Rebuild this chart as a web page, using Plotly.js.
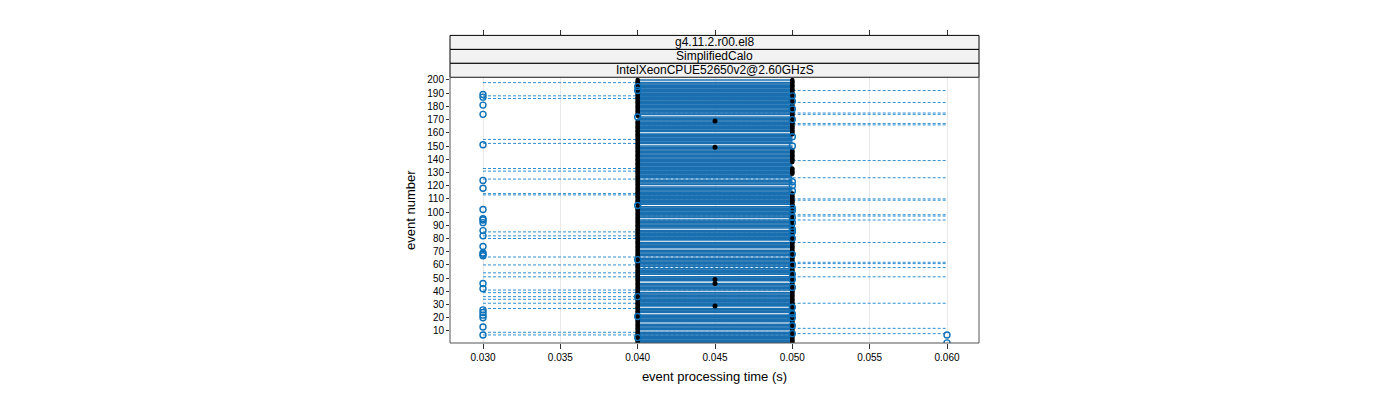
<!DOCTYPE html>
<html>
<head>
<meta charset="utf-8">
<script src="https://cdn.plot.ly/plotly-3.0.1.min.js"></script>
<style>html,body{margin:0;padding:0;background:#fff;}#chart{width:1400px;height:400px;}</style>
</head>
<body>
<div id="chart"></div>
<script>
// ---- data ----
const stripLabels = ["g4.11.2.r00.el8", "SimplifiedCalo", "IntelXeonCPUE52650v2@2.60GHzS"];
const xTickVals = [0.030, 0.035, 0.040, 0.045, 0.050, 0.055, 0.060];
const xTickText = ["0.030", "0.035", "0.040", "0.045", "0.050", "0.055", "0.060"];
const yTickVals = [10,20,30,40,50,60,70,80,90,100,110,120,130,140,150,160,170,180,190,200];
const events = [1,2,3,4,5,6,7,8,9,10,11,12,13,14,15,16,17,18,19,20,21,22,23,24,25,26,27,28,29,30,
  31,32,33,34,35,36,37,38,39,40,41,42,43,44,45,46,47,48,49,50,51,52,53,54,55,56,57,58,59,60,
  61,62,63,64,65,66,67,68,69,70,71,72,73,74,75,76,77,78,79,80,81,82,83,84,85,86,87,88,89,90,
  91,92,93,94,95,96,97,98,99,100,101,102,103,104,105,106,107,108,109,110,111,112,113,114,115,
  116,117,118,119,120,121,122,123,124,125,126,127,128,129,130,131,132,133,134,135,136,137,138,
  139,140,141,142,143,144,145,146,147,148,149,150,151,152,153,154,155,156,157,158,159,160,161,
  162,163,164,165,166,167,168,169,170,171,172,173,174,175,176,177,178,179,180,181,182,183,184,
  185,186,187,188,189,190,191,192,193,194,195,196,197,198,199,200];
// events whose 0.040-0.050 span is absent (white gaps in the band)
const bandGaps = [199,173,160,151,125,120,105,95,87,78,72,66,58,52,47,40,28,23,16,10];
// dashed spans 0.030 -> 0.050 and 0.040 -> 0.060
const leftDash = [198,188,186,155,152,133,131,125,114,113,85,82,80,66,60,54,51,41,39,36,34,31,27,9,7];
const rightDash = [192,183,175,174,167,166,139,126,110,109,98,97,94,77,62,61,58,51,31,12,8];
// open circles
const circ030 = [189,187,181,174,151,124,118,102,95,94,92,86,82,74,69,68,67,46,42,26,24,22,20,13,7];
const circ040 = [195,192,172,105,64,36,21,5];
const circ050 = [188,184,178,170,157,150,123,120,116,103,101,96,92,87,85,80,68,60,53,49,43,28,23,20,14,8];
const circ060 = [7,1];
// filled dots
const dot045 = [169,149,49,46,29];
const dot040Missing = [172,171,170,105];
const dot050Missing = [158,157,156,155,154,153,152,151,150,149,148,137,136,135,134,128,127,126,125,124,
  123,122,121,120,119,118,117,116,115,101,96,92,87];

// ---- build traces ----
function spans(list, x0, x1) {
  const xs = [], ys = [];
  list.forEach(e => { xs.push(x0, x1, null); ys.push(e, e, null); });
  return {xs, ys};
}
const bandEvents = events.filter(e => bandGaps.indexOf(e) < 0);
const band = spans(bandEvents, 0.040, 0.050);
const ld = spans(leftDash, 0.030, 0.050);
const rd = spans(rightDash, 0.040, 0.060);
const dot040 = events.filter(e => dot040Missing.indexOf(e) < 0);
const dot050 = events.filter(e => dot050Missing.indexOf(e) < 0);

const BLUE = '#1a6fb0';
const DASHBLUE = '#2f8fd2';
const CIRC = '#0b72ba';

const traces = [
  {x: ld.xs, y: ld.ys, mode: 'lines', line: {color: DASHBLUE, width: 1, dash: '3px,2px'}, hoverinfo: 'skip'},
  {x: rd.xs, y: rd.ys, mode: 'lines', line: {color: DASHBLUE, width: 1, dash: '3px,2px'}, hoverinfo: 'skip'},
  {x: band.xs, y: band.ys, mode: 'lines', line: {color: BLUE, width: 1.6}, hoverinfo: 'skip'},
  {x: dot040.map(() => 0.040), y: dot040, mode: 'markers', marker: {symbol: 'circle', size: 4.5, color: '#000'}},
  {x: dot050.map(() => 0.050), y: dot050, mode: 'markers', marker: {symbol: 'circle', size: 4.5, color: '#000'}},
  {x: dot045.map(() => 0.045), y: dot045, mode: 'markers', marker: {symbol: 'circle', size: 5, color: '#000'}},
  {x: circ030.map(() => 0.030).concat(circ040.map(() => 0.040), circ050.map(() => 0.050), circ060.map(() => 0.060)),
   y: circ030.concat(circ040, circ050, circ060),
   mode: 'markers', marker: {symbol: 'circle-open', size: 6, color: CIRC, line: {width: 1.4, color: CIRC}}}
];

// ---- layout geometry (pixels) ----
const W = 1400, H = 400;
const panelL = 450, panelR = 979, panelT = 77.3, panelB = 342.7;
const topM = 30;
const plotH = H - topM - (H - panelB);
const py = p => (panelB - p) / plotH;   // pixel y -> paper y
const stripEdges = [35.4, 49.4, 63.3, 77.3];

const shapes = [], annotations = [];
for (let i = 0; i < 3; i++) {
  shapes.push({type: 'rect', xref: 'paper', yref: 'paper', x0: 0, x1: 1,
    y0: py(stripEdges[i + 1]), y1: py(stripEdges[i]),
    fillcolor: '#f2f2f2', line: {color: '#000', width: 1}, layer: 'above'});
  annotations.push({xref: 'paper', yref: 'paper', x: 0.5, y: (py(stripEdges[i + 1]) + py(stripEdges[i])) / 2,
    text: stripLabels[i], showarrow: false, xanchor: 'center', yanchor: 'middle',
    font: {family: 'Liberation Sans, Arial, sans-serif', size: 12, color: '#000'}});
}
shapes.push({type: 'rect', xref: 'paper', yref: 'paper', x0: 0, x1: 1, y0: 0, y1: py(panelT),
  line: {color: '#555', width: 1}, fillcolor: 'rgba(0,0,0,0)', layer: 'above'});

const font = {family: 'Liberation Sans, Arial, sans-serif', size: 10, color: '#000'};
const xr = [0.027866, 0.062069];

const layout = {
  width: W, height: H,
  margin: {l: panelL, r: W - panelR, t: topM, b: H - panelB, pad: 0},
  paper_bgcolor: '#fff', plot_bgcolor: '#fff',
  showlegend: false,
  font: font,
  xaxis: {
    range: xr, domain: [0, 1], tickvals: xTickVals, ticktext: xTickText,
    ticks: 'outside', ticklen: 5, tickcolor: '#333', tickfont: font,
    showgrid: true, gridcolor: '#e8e8e8', gridwidth: 1, zeroline: false,
    showline: false,
    title: {text: 'event processing time (s)', font: {family: 'Liberation Sans, Arial, sans-serif', size: 13, color: '#000'}, standoff: 9}
  },
  xaxis2: {
    range: xr, overlaying: 'x', anchor: 'free', position: py(stripEdges[0]), side: 'top',
    tickvals: xTickVals, showticklabels: false, ticks: 'outside', ticklen: 5, tickcolor: '#333',
    showgrid: false, zeroline: false, showline: false
  },
  yaxis: {
    range: [0.9, 202], domain: [0, py(panelT)], tickvals: yTickVals,
    ticks: 'outside', ticklen: 3, tickcolor: '#333', tickfont: font,
    showgrid: false, zeroline: false, showline: false,
    title: {text: 'event number', font: {family: 'Liberation Sans, Arial, sans-serif', size: 13, color: '#000'}, standoff: 8}
  },
  shapes: shapes,
  annotations: annotations
};
// invisible trace so the top tick axis is drawn
traces.push({x: [xr[0]], y: [1], xaxis: 'x2', mode: 'markers', marker: {opacity: 0}, hoverinfo: 'skip'});

Plotly.newPlot('chart', traces, layout, {displayModeBar: false, staticPlot: true});
</script>
</body>
</html>
